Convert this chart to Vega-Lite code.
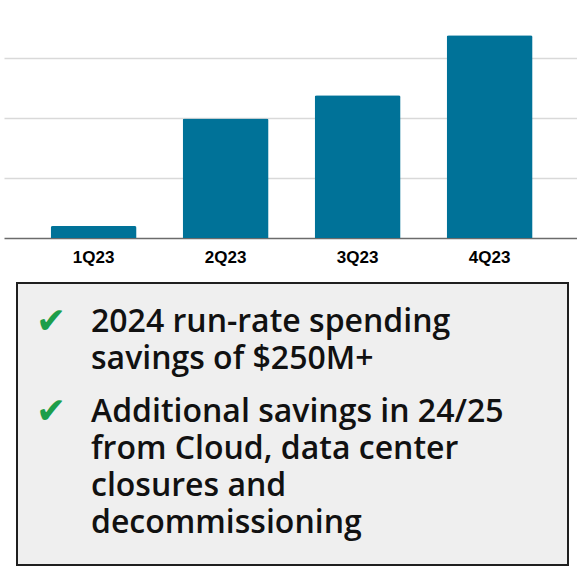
{
  "$schema": "https://vega.github.io/schema/vega-lite/v6.json",
  "padding": {"left": 4, "top": 0, "right": 0, "bottom": 0},
  "background": "#ffffff",
  "config": {"view": {"stroke": null}},
  "center": true,
  "spacing": 17,
  "vconcat": [
    {
      "width": 578,
      "height": 238,
      "data": {"values": [
        {"quarter": "1Q23", "value": 10},
        {"quarter": "2Q23", "value": 99.5},
        {"quarter": "3Q23", "value": 119},
        {"quarter": "4Q23", "value": 169}
      ]},
      "mark": {"type": "bar", "color": "#007298", "cornerRadiusTopLeft": 2, "cornerRadiusTopRight": 2},
      "encoding": {
        "x": {
          "field": "quarter", "type": "nominal", "sort": null,
          "scale": {"paddingInner": 0.3485, "paddingOuter": 0.3636, "align": 0.486},
          "axis": {"title": null, "labelAngle": 0, "ticks": false, "labelFont": "Liberation Sans", "labelFontWeight": "bold", "labelFontSize": 17, "labelColor": "#000000", "labelPadding": 11, "domainColor": "#6b6b6b", "domainWidth": 1.5}
        },
        "y": {
          "field": "value", "type": "quantitative",
          "scale": {"domain": [0, 198.3], "nice": false},
          "axis": {"title": null, "labels": false, "ticks": false, "domain": false, "values": [50, 100, 150], "gridColor": "#d9d9d9", "gridWidth": 1.5}
        }
      }
    },
    {
      "width": 551,
      "height": 282,
      "view": {"fill": "#efefef", "stroke": "#1f1f1f", "strokeWidth": 2},
      "data": {"values": [
        {"item": 1, "text": "2024 run-rate spending\nsavings of $250M+"},
        {"item": 2, "text": "Additional savings in 24/25\nfrom Cloud, data center\nclosures and\ndecommissioning"}
      ]},
      "layer": [
        {
          "mark": {"type": "text", "text": "✔", "font": "DejaVu Sans", "fontSize": 36, "color": "#1e9e4a", "align": "left", "baseline": "alphabetic", "dy": 1},
          "encoding": {
            "x": {"datum": "check", "type": "ordinal", "scale": {"type": "point", "domain": ["check", "text"], "range": [19, 74], "padding": 0}, "axis": null},
            "y": {"field": "item", "type": "ordinal", "scale": {"type": "point", "range": [48.5, 138.5], "padding": 0}, "axis": null}
          }
        },
        {
          "mark": {"type": "text", "font": "Open Sans", "fontWeight": 600, "fontSize": 32, "lineHeight": 37, "lineBreak": "\n", "color": "#111111", "align": "left", "baseline": "alphabetic"},
          "encoding": {
            "x": {"datum": "text", "type": "ordinal", "scale": {"type": "point", "domain": ["check", "text"], "range": [19, 74], "padding": 0}, "axis": null},
            "y": {"field": "item", "type": "ordinal", "scale": {"type": "point", "range": [48.5, 138.5], "padding": 0}, "axis": null},
            "text": {"field": "text"}
          }
        }
      ]
    }
  ]
}
